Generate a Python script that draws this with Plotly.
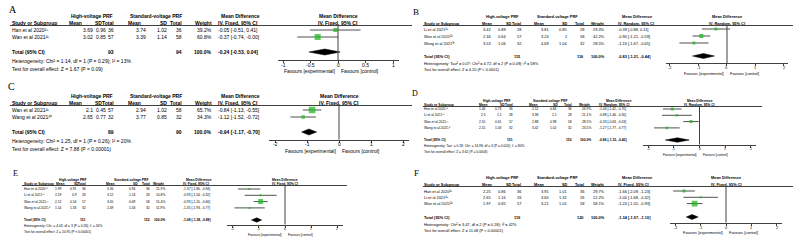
import plotly.graph_objects as go

# ------------------------------------------------------------------ data
# Panel A
A_study = ["Han et al 2020", "Wan et al 2021"]
A_ref = ["28", "21"]
A_hv_mean = [3.69, 3.02]
A_hv_sd = [0.96, 0.85]
A_hv_n = [36, 57]
A_sv_mean = [3.74, 3.39]
A_sv_sd = [1.02, 1.14]
A_sv_n = [36, 58]
A_weight = [39.2, 60.8]
A_md = [-0.05, -0.37]
A_lo = [-0.51, -0.74]
A_hi = [0.41, -0.00]
A_total_n = [93, 94]
A_total_md = [-0.24, -0.53, 0.04]
A_het = "Heterogeneity: Chi² = 1.14, df = 1 (P = 0.29); I² = 13%"
A_test = "Test for overall effect: Z = 1.67 (P = 0.09)"
A_method = "IV, Fixed, 95% CI"
A_ticks = [-1, -0.5, 0, 0.5, 1]

# Panel B
B_study = ["Li et al 2021", "Wan et al 2021", "Wang et al 2021"]
B_ref = ["29", "21", "30"]
B_hv_mean = [3.42, 2.34, 3.53]
B_hv_sd = [0.89, 0.64, 1.06]
B_hv_n = [28, 57, 32]
B_sv_mean = [3.81, 3.24, 4.69]
B_sv_sd = [0.85, 1, 1.04]
B_sv_n = [28, 58, 32]
B_weight = [29.3, 42.2, 28.5]
B_md = [-0.39, -0.90, -1.16]
B_lo = [-0.88, -1.21, -1.67]
B_hi = [0.11, -0.59, -0.65]
B_total_n = [115, 116]
B_total_md = [-0.83, -1.21, -0.44]
B_het = "Heterogeneity: Tau² = 0.07; Chi² = 4.72, df = 2 (P = 0.09); I² = 58%"
B_test = "Test for overall effect: Z = 4.20 (P < 0.0001)"
B_method = "IV, Random, 95% CI"
B_ticks = [-2, -1, 0, 1, 2]

# Panel C
C_study = ["Wan et al 2021", "Wang et al 2021"]
C_ref = ["21", "30"]
C_hv_mean = [2.1, 2.65]
C_hv_sd = [0.45, 0.77]
C_hv_n = [57, 32]
C_sv_mean = [2.94, 3.77]
C_sv_sd = [1.02, 0.85]
C_sv_n = [58, 32]
C_weight = [65.7, 34.3]
C_md = [-0.84, -1.12]
C_lo = [-1.13, -1.52]
C_hi = [-0.55, -0.72]
C_total_n = [89, 90]
C_total_md = [-0.94, -1.17, -0.70]
C_het = "Heterogeneity: Chi² = 1.25, df = 1 (P = 0.26); I² = 20%"
C_test = "Test for overall effect: Z = 7.88 (P < 0.00001)"
C_method = "IV, Fixed, 95% CI"
C_ticks = [-2, -1, 0, 1, 2]

# Panel D
D_study = ["Han et al 2020", "Li et al 2021", "Wan et al 2021", "Wang et al 2021"]
D_ref = ["28", "29", "21", "30"]
D_hv_mean = [1.46, 2.5, 2.55, 2.15]
D_hv_sd = [0.73, 1.1, 0.61, 1.03]
D_hv_n = [36, 28, 57, 32]
D_sv_mean = [2.52, 3.38, 2.88, 3.42]
D_sv_sd = [0.84, 1.1, 0.98, 1.02]
D_sv_n = [36, 28, 58, 32]
D_weight = [26.9, 21.1, 28.5, 23.5]
D_md = [-1.06, -0.88, -0.33, -1.27]
D_lo = [-1.42, -1.46, -0.63, -1.77]
D_hi = [-0.70, -0.30, -0.03, -0.77]
D_total_n = [151, 152]
D_total_md = [-0.86, -1.33, -0.40]
D_het = "Heterogeneity: Tau² = 0.18; Chi² = 14.98, df = 3 (P = 0.002); I² = 80%"
D_test = "Test for overall effect: Z = 3.62 (P = 0.0003)"
D_method = "IV, Random, 95% CI"
D_ticks = [-2, -1, 0, 1, 2]

# Panel E
E_study = ["Han et al 2020", "Li et al 2021", "Wan et al 2021", "Wang et al 2021"]
E_ref = ["28", "29", "21", "30"]
E_hv_mean = [1.99, 2.19, 2.12, 1.14]
E_hv_sd = [0.91, 0.90, 0.54, 1.33]
E_hv_n = [36, 28, 57, 32]
E_sv_mean = [3.36, 3.12, 3.05, 2.49]
E_sv_sd = [0.94, 1.24, 0.69, 1.03]
E_sv_n = [36, 28, 58, 32]
E_weight = [21.9, 10.8, 55.4, 11.9]
E_md = [-1.37, -0.93, -0.93, -1.35]
E_lo = [-1.80, -1.54, -1.20, -1.93]
E_hi = [-0.94, -0.32, -0.66, -0.77]
E_total_n = [151, 152]
E_total_md = [-1.08, -1.28, -0.89]
E_het = "Heterogeneity: Chi² = 4.03, df = 3 (P = 0.26); I² = 26%"
E_test = "Test for overall effect: Z = 10.95 (P < 0.00001)"
E_method = "IV, Fixed, 95% CI"
E_ticks = [-2, -1, 0, 1, 2]

# Panel F
F_study = ["Han et al 2020", "Li et al 2021", "Wan et al 2021"]
F_ref = ["28", "29", "21"]
F_hv_mean = [2.25, 2.65, 1.97]
F_hv_sd = [0.86, 1.16, 0.65]
F_hv_n = [36, 26, 57]
F_sv_mean = [3.91, 3.65, 3.21]
F_sv_sd = [1.01, 1.32, 1.01]
F_sv_n = [36, 26, 58]
F_weight = [29.7, 12.2, 58.1]
F_md = [-1.66, -1.00, -1.24]
F_lo = [-2.09, -1.68, -1.55]
F_hi = [-1.23, -0.32, -0.93]
F_total_n = [119, 120]
F_total_md = [-1.34, -1.57, -1.10]
F_het = "Heterogeneity: Chi² = 3.47, df = 2 (P = 0.18); I² = 42%"
F_test = "Test for overall effect: Z = 11.08 (P < 0.00001)"
F_method = "IV, Fixed, 95% CI"
F_ticks = [-2, -1, 0, 1, 2]

HV_LABEL = "High-voltage PRF"
SV_LABEL = "Standard-voltage PRF"
MD_LABEL = "Mean Difference"
FAV_L = "Favours [experimental]"
FAV_R = "Favours [control]"


def pack(p):
    g = globals()
    return {k: g[p + "_" + k] for k in ["study", "ref", "hv_mean", "hv_sd", "hv_n", "sv_mean", "sv_sd",
                                         "sv_n", "weight", "md", "lo", "hi", "total_n", "total_md",
                                         "het", "test", "method", "ticks"]}


# ------------------------------------------------------------------ layout (pixel positions)
LAY_A = dict(lab=(13, 9), fs=5.0, labfs=10, gh=16, ch=23, line=25.5, lx=(10, 412), r0=30, dr=7, tot=52, het=61,
             test=69, study=11, m1=94, s1=107, n1=115, m2=147, s2=168, n2=183, w=213, ci=217,
             h_m1=75, h_s1=98, h_m2=134, h_s2=163.5, g_hv=91.5, g_sv=155.5, g_md=240,
             zero=338, unit=55, half=1.1, axis=60, fav=71, sqk=0.1, dh=3)
LAY_B = dict(lab=(416, 12), fs=3.9, labfs=9, gh=16, ch=23, line=25.5, lx=(423, 793), r0=29, dr=7, tot=56, het=63,
             test=69, study=423, m1=492, s1=507, n1=522, m2=550, s2=568, n2=585, w=606, ci=617,
             h_m1=487, h_s1=509, h_m2=539, h_s2=564.5, g_hv=502, g_sv=557, g_md=637,
             zero=727, unit=28.5, half=2.15, axis=63, fav=73, sqk=0.1, dh=2.5)
LAY_C = dict(LAY_A, lab=(11, 86), gh=96, ch=103, line=105.5, r0=110, tot=132, het=141, test=149,
             zero=339, unit=32, half=2.2, axis=139.5, fav=151)
LAY_D = dict(lab=(415, 93), fs=3.3, labfs=8, gh=101, ch=105, line=106.5, lx=(423, 762), r0=109, dr=6.3, tot=140,
             het=146, test=152, study=423, m1=487, s1=503, n1=514, m2=540, s2=558, n2=573, w=592, ci=598,
             h_m1=483, h_s1=502, h_m2=532.5, h_s2=555.5, g_hv=496, g_sv=550, g_md=619,
             zero=699.5, unit=25.7, half=2.2, axis=144.5, fav=155, sqk=0.11, dh=2.2)
LAY_E = dict(lab=(15, 173), fs=3.3, labfs=8, gh=180, ch=184, line=185.5, lx=(22, 347), r0=189, dr=6.3, tot=220,
             het=226, test=232, study=23, m1=63, s1=78, n1=87, m2=115, s2=137, n2=151, w=166, ci=182,
             h_m1=59.5, h_s1=76.5, h_m2=110, h_s2=135, g_hv=72, g_sv=131, g_md=199,
             zero=285, unit=26.2, half=2.2, axis=224.5, fav=235, sqk=0.09, dh=2.2)
LAY_F = dict(LAY_B, lab=(416, 173), gh=177, ch=184, line=186.5, r0=191, dr=6.3, tot=217, het=224, test=230,
             zero=726, unit=25.3, half=2.2, axis=222.5, fav=232)

FONT = "Liberation Sans"
GREEN = "#17b817"
LINEC = "#404040"
W, H = 800, 244
SUP = str.maketrans("0123456789", "⁰¹²³⁴⁵⁶⁷⁸⁹")

fig = go.Figure()
annotations = []
shapes = []
layout_axes = {}


def txt(x, y, s, size, anchor="left", bold=False, family=FONT, xref="x"):
    if bold:
        s = "<b>" + s + "</b>"
    annotations.append(dict(x=x, y=y, xref=xref, yref="y", text=s, showarrow=False, xanchor=anchor,
                            yanchor="middle", borderpad=0,
                            font=dict(family=family, size=size, color="#000000")))


def num(v):
    return f"{v:g}"


def panel(k, name, d, L):
    fs = L["fs"]
    ax = "x%d" % k
    txt(L["lab"][0], L["lab"][1], name, L["labfs"], "center", False, "Liberation Serif")
    # group headers
    txt(L["g_hv"], L["gh"], HV_LABEL, fs, "center", True)
    txt(L["g_sv"], L["gh"], SV_LABEL, fs, "center", True)
    txt(L["g_md"], L["gh"], MD_LABEL, fs, "center", True)
    txt(L["zero"], L["gh"], MD_LABEL, fs, "center", True)
    # column headers
    ch = L["ch"]
    txt(L["study"], ch, "Study or Subgroup", fs, "left", True)
    txt(L["h_m1"], ch, "Mean", fs, "center", True)
    txt(L["h_s1"], ch, "SD", fs, "center", True)
    txt(L["n1"], ch, "Total", fs, "right", True)
    txt(L["h_m2"], ch, "Mean", fs, "center", True)
    txt(L["h_s2"], ch, "SD", fs, "center", True)
    txt(L["n2"], ch, "Total", fs, "right", True)
    txt(L["w"], ch, "Weight", fs, "right", True)
    txt(L["ci"], ch, d["method"], fs, "left", True)
    txt(L["zero"], ch, d["method"], fs, "center", True)
    shapes.append(dict(type="line", xref="x", yref="y", x0=L["lx"][0], x1=L["lx"][1], y0=L["line"],
                       y1=L["line"], line=dict(color=LINEC, width=1)))
    # study rows
    n = len(d["study"])
    ys = [L["r0"] + i * L["dr"] for i in range(n)]
    for i in range(n):
        y = ys[i]
        txt(L["study"], y, d["study"][i] + d["ref"][i].translate(SUP), fs)
        txt(L["m1"], y, num(d["hv_mean"][i]), fs, "right")
        txt(L["s1"], y, num(d["hv_sd"][i]), fs, "right")
        txt(L["n1"], y, num(d["hv_n"][i]), fs, "right")
        txt(L["m2"], y, num(d["sv_mean"][i]), fs, "right")
        txt(L["s2"], y, num(d["sv_sd"][i]), fs, "right")
        txt(L["n2"], y, num(d["sv_n"][i]), fs, "right")
        txt(L["w"], y, f"{d['weight'][i]:.1f}%", fs, "right")
        txt(L["ci"], y, f"{d['md'][i]:.2f} [{d['lo'][i]:.2f}, {d['hi'][i]:.2f}]", fs)
    # total row
    ty = L["tot"]
    tm = d["total_md"]
    txt(L["study"], ty, "Total (95% CI)", fs, "left", True)
    txt(L["n1"], ty, num(d["total_n"][0]), fs, "right", True)
    txt(L["n2"], ty, num(d["total_n"][1]), fs, "right", True)
    txt(L["w"], ty, "100.0%", fs, "right", True)
    txt(L["ci"], ty, f"{tm[0]:.2f} [{tm[1]:.2f}, {tm[2]:.2f}]", fs, "left", True)
    txt(L["study"], L["het"], d["het"], fs)
    txt(L["study"], L["test"], d["test"], fs)

    # forest axis
    z, u, h = L["zero"], L["unit"], L["half"]
    layout_axes["xaxis%d" % k] = dict(
        domain=[(z - h * u) / W, (z + h * u) / W], range=[-h, h], anchor="free",
        position=1 - L["axis"] / H, showgrid=False, zeroline=False, showline=True,
        linecolor=LINEC, linewidth=1, ticks="outside", ticklen=2, tickwidth=1, tickcolor=LINEC,
        tickvals=d["ticks"], showticklabels=False, fixedrange=True)
    for t in d["ticks"]:
        txt(t, L["axis"] + 4.5, num(t), fs, "center", False, FONT, ax)
    shapes.append(dict(type="line", xref=ax, yref="y", x0=0, x1=0, y0=L["line"], y1=L["axis"],
                       line=dict(color=LINEC, width=1)))
    txt(z - 2, L["fav"], FAV_L, fs, "right")
    txt(z + 2, L["fav"], FAV_R, fs, "left")

    # CI lines
    cx, cy = [], []
    for i in range(n):
        cx += [d["lo"][i], d["hi"][i], None]
        cy += [ys[i], ys[i], None]
    fig.add_trace(go.Scatter(x=cx, y=cy, xaxis=ax, yaxis="y", mode="lines",
                             line=dict(color="#505050", width=1), hoverinfo="skip"))
    # squares
    fig.add_trace(go.Scatter(x=d["md"], y=ys, xaxis=ax, yaxis="y", mode="markers",
                             marker=dict(symbol="square", color=GREEN,
                                         size=[max(2.0, L["sqk"] * w) for w in d["weight"]],
                                         line=dict(width=0)), hoverinfo="skip"))
    # diamond
    dh = L["dh"]
    fig.add_trace(go.Scatter(x=[tm[1], tm[0], tm[2], tm[0], tm[1]],
                             y=[ty, ty - dh, ty, ty + dh, ty], xaxis=ax, yaxis="y",
                             mode="lines", fill="toself", fillcolor="#000000",
                             line=dict(color="#000000", width=0.5), hoverinfo="skip"))


panel(2, "A", pack("A"), LAY_A)
panel(3, "B", pack("B"), LAY_B)
panel(4, "C", pack("C"), LAY_C)
panel(5, "D", pack("D"), LAY_D)
panel(6, "E", pack("E"), LAY_E)
panel(7, "F", pack("F"), LAY_F)

fig.update_layout(
    width=W, height=H, margin=dict(l=0, r=0, t=0, b=0),
    paper_bgcolor="white", plot_bgcolor="rgba(0,0,0,0)", showlegend=False,
    xaxis=dict(range=[0, W], domain=[0, 1], visible=False, fixedrange=True),
    yaxis=dict(range=[H, 0], domain=[0, 1], visible=False, fixedrange=True),
    annotations=annotations, shapes=shapes, **layout_axes)

fig.write_html("out.html", config={"displayModeBar": False, "staticPlot": True},
               post_script="document.body.style.margin='0';document.body.style.overflow='hidden';")
